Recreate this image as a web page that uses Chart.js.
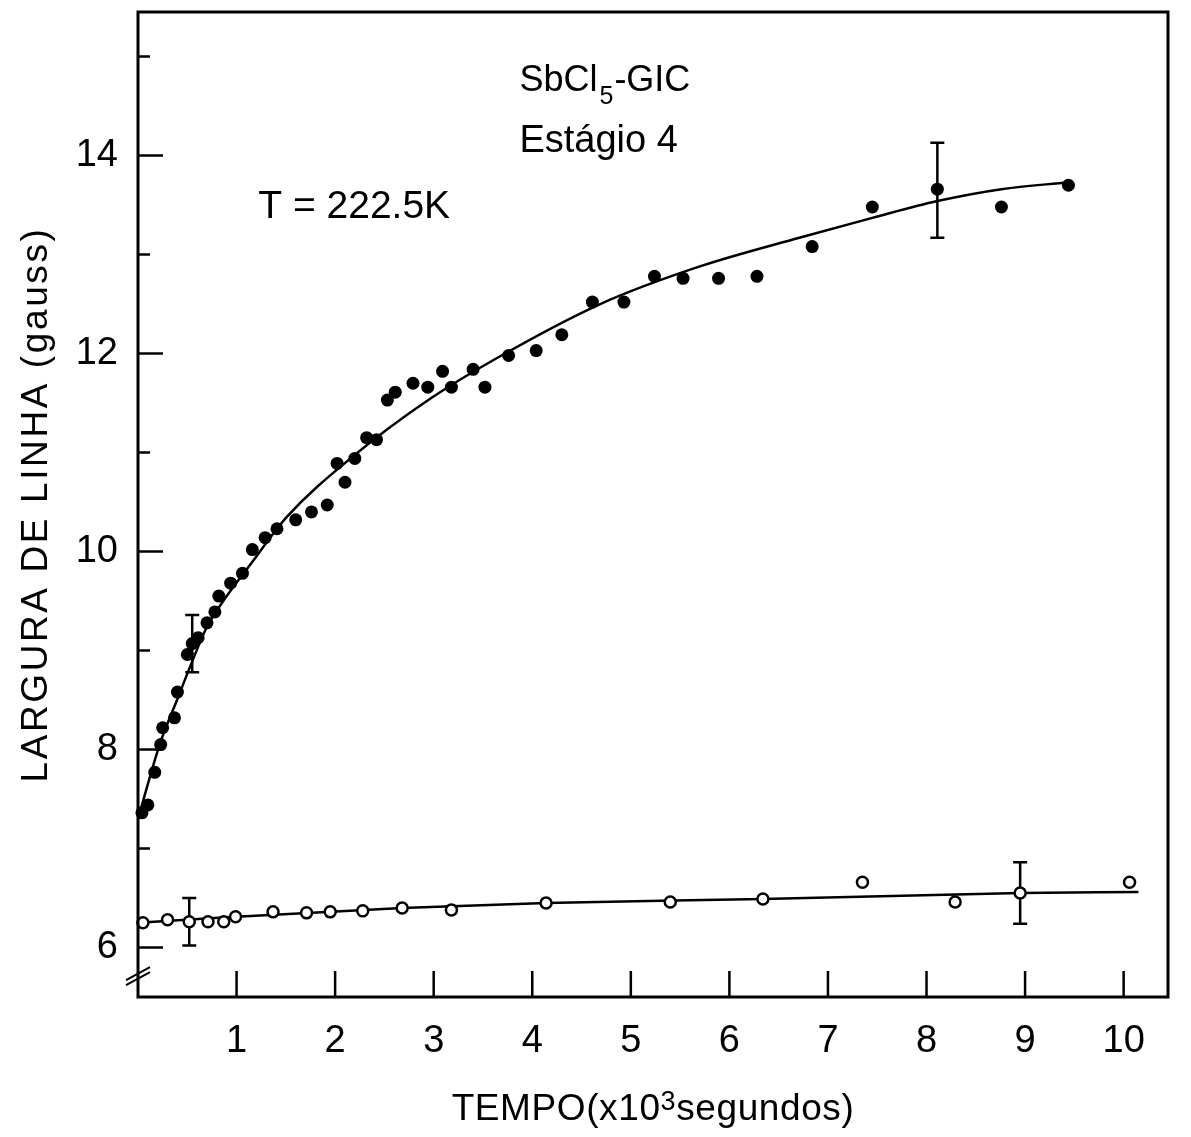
<!DOCTYPE html>
<html>
<head>
<meta charset="utf-8">
<script src="https://cdn.jsdelivr.net/npm/chart.js@4.4.1/dist/chart.umd.min.js"></script>
<style>
  html, body { margin: 0; padding: 0; background: #fff; }
</style>
</head>
<body>
<canvas id="chart" width="1191" height="1137"></canvas>
<script>
// pontos cheios (largura de linha medida)
const filledTime = [0.04, 0.10, 0.17, 0.23, 0.25, 0.37, 0.40, 0.50, 0.55, 0.61, 0.70, 0.78, 0.82, 0.94,
  1.06, 1.16, 1.29, 1.41, 1.60, 1.76, 1.92, 2.10, 2.02, 2.20, 2.32, 2.42, 2.53, 2.61, 2.79, 2.94,
  3.09, 3.18, 3.40, 3.52, 3.76, 4.04, 4.30, 4.61, 4.93, 5.24, 5.53, 5.89, 6.28, 6.84, 7.45, 8.11,
  8.76, 9.44];
const filledWidth = [7.36, 7.44, 7.77, 8.05, 8.22, 8.32, 8.58, 8.96, 9.07, 9.13, 9.28, 9.39, 9.55, 9.68,
  9.78, 10.02, 10.14, 10.23, 10.32, 10.40, 10.47, 10.70, 10.89, 10.94, 11.15, 11.13, 11.53, 11.61, 11.70, 11.66,
  11.82, 11.66, 11.84, 11.66, 11.98, 12.03, 12.19, 12.52, 12.52, 12.78, 12.76, 12.76, 12.78, 13.08, 13.48, 13.66,
  13.48, 13.70];

// pontos abertos
const openTime = [0.05, 0.30, 0.52, 0.71, 0.87, 0.99, 1.37, 1.71, 1.95, 2.28, 2.68, 3.18, 4.14, 5.40,
  6.34, 7.35, 8.29, 8.95, 10.06];
const openWidth = [6.25, 6.28, 6.26, 6.26, 6.26, 6.31, 6.36, 6.35, 6.36, 6.37, 6.40, 6.38, 6.45, 6.46,
  6.49, 6.66, 6.46, 6.55, 6.66];

// curvas ajustadas
const fitUpperTime = [0, 0.22, 0.40, 0.53, 0.70, 0.90, 1.14, 1.51, 2.18, 2.96, 3.67, 4.69, 5.70, 6.71,
  7.45, 8.11, 8.76, 9.44];
const fitUpperWidth = [7.30, 8.05, 8.51, 8.84, 9.24, 9.55, 9.87, 10.35, 10.96, 11.54, 11.97, 12.50, 12.88, 13.17,
  13.37, 13.54, 13.66, 13.73];
const fitLowerTime = [0, 0.98, 2.68, 4.14, 6.34, 8.95, 10.15];
const fitLowerWidth = [6.25, 6.31, 6.40, 6.45, 6.49, 6.55, 6.56];

// barras de erro
const errFilledTime = [0.55, 8.11];
const errFilledCenter = [9.07, 13.65];
const errFilledHalf = [0.29, 0.48];
const errOpenTime = [0.52, 8.95];
const errOpenCenter = [6.26, 6.55];
const errOpenHalf = [0.24, 0.31];

// eixos
const xTickValues = [1, 2, 3, 4, 5, 6, 7, 8, 9, 10];
const yMajorTicks = [6, 8, 10, 12, 14];
const yMinorTicks = [7, 9, 11, 13, 15];

const FONT = '"Liberation Sans", Arial, sans-serif';
const toXY = (xs, ys) => xs.map((x, i) => ({ x: x, y: ys[i] }));

// moldura, marcas internas, quebra do eixo, barras de erro e textos
const decorPlugin = {
  id: 'decor',
  beforeDatasetsDraw(chart) {
    const { ctx, scales: { x, y } } = chart;
    ctx.save();
    ctx.strokeStyle = '#000';
    ctx.lineWidth = 2.5;
    const bars = (ts, cs, hs) => {
      ts.forEach((t, i) => {
        const px = x.getPixelForValue(t);
        const top = y.getPixelForValue(cs[i] + hs[i]);
        const bot = y.getPixelForValue(cs[i] - hs[i]);
        ctx.beginPath();
        ctx.moveTo(px, top); ctx.lineTo(px, bot);
        ctx.moveTo(px - 7, top); ctx.lineTo(px + 7, top);
        ctx.moveTo(px - 7, bot); ctx.lineTo(px + 7, bot);
        ctx.stroke();
      });
    };
    bars(errFilledTime, errFilledCenter, errFilledHalf);
    bars(errOpenTime, errOpenCenter, errOpenHalf);
    ctx.restore();
  },
  afterDraw(chart) {
    const { ctx, chartArea: a, scales: { x, y } } = chart;
    ctx.save();
    ctx.strokeStyle = '#000';
    ctx.lineWidth = 3;
    ctx.strokeRect(a.left, a.top, a.right - a.left, a.bottom - a.top);

    ctx.lineWidth = 2.5;
    ctx.beginPath();
    yMajorTicks.forEach(v => {
      const py = y.getPixelForValue(v);
      ctx.moveTo(a.left, py); ctx.lineTo(a.left + 25, py);
    });
    yMinorTicks.forEach(v => {
      const py = y.getPixelForValue(v);
      ctx.moveTo(a.left, py); ctx.lineTo(a.left + 12, py);
    });
    xTickValues.forEach(v => {
      const px = x.getPixelForValue(v);
      ctx.moveTo(px, a.bottom); ctx.lineTo(px, a.bottom - 26);
    });
    ctx.stroke();

    // quebra do eixo (//)
    const by = y.getPixelForValue(5.72);
    ctx.lineWidth = 2;
    ctx.beginPath();
    ctx.moveTo(a.left - 12, by + 10); ctx.lineTo(a.left + 12, by - 3);
    ctx.moveTo(a.left - 12, by + 5); ctx.lineTo(a.left + 12, by - 8);
    ctx.stroke();

    // textos dentro do gráfico
    ctx.fillStyle = '#000';
    ctx.textBaseline = 'alphabetic';
    ctx.textAlign = 'left';
    let tx = x.getPixelForValue(3.87);
    let ty = y.getPixelForValue(14.65);
    ctx.font = '36px ' + FONT;
    ctx.fillText('SbCl', tx, ty);
    tx += ctx.measureText('SbCl').width + 2;
    ctx.font = '25px ' + FONT;
    ctx.fillText('5', tx, ty + 13);
    tx += ctx.measureText('5').width + 1;
    ctx.font = '36px ' + FONT;
    ctx.fillText('-GIC', tx, ty);

    ctx.font = '38px ' + FONT;
    ctx.fillText('Estágio 4', x.getPixelForValue(3.87), y.getPixelForValue(14.04));
    ctx.font = '39px ' + FONT;
    ctx.fillText('T = 222.5K', x.getPixelForValue(1.22), y.getPixelForValue(13.37));

    // título do eixo x, com expoente
    const partA = 'TEMPO(x10', sup = '3', partB = 'segundos)';
    ctx.letterSpacing = '0.6px';
    ctx.font = '37px ' + FONT;
    const wA = ctx.measureText(partA).width;
    const wB = ctx.measureText(partB).width;
    ctx.font = '27px ' + FONT;
    const wS = ctx.measureText(sup).width;
    let sx = (a.left + a.right) / 2 - (wA + wS + wB) / 2;
    const sy = 1120;
    ctx.font = '37px ' + FONT;
    ctx.fillText(partA, sx, sy);
    sx += wA;
    ctx.font = '27px ' + FONT;
    ctx.fillText(sup, sx, sy - 10);
    sx += wS;
    ctx.font = '37px ' + FONT;
    ctx.fillText(partB, sx, sy);

    // título do eixo y
    ctx.letterSpacing = '2.6px';
    ctx.translate(47, (a.top + a.bottom) / 2);
    ctx.rotate(-Math.PI / 2);
    ctx.textAlign = 'center';
    ctx.fillText('LARGURA DE LINHA (gauss)', 0, 0);
    ctx.restore();
  }
};

new Chart(document.getElementById('chart'), {
  type: 'scatter',
  data: {
    datasets: [
      {
        label: 'cheios',
        data: toXY(filledTime, filledWidth),
        pointRadius: 6.5,
        pointBackgroundColor: '#000',
        pointBorderColor: '#000',
        pointBorderWidth: 0,
        showLine: false,
        clip: false,
        order: 1
      },
      {
        label: 'abertos',
        data: toXY(openTime, openWidth),
        pointRadius: 5.5,
        pointBackgroundColor: '#fff',
        pointBorderColor: '#000',
        pointBorderWidth: 2.5,
        showLine: false,
        clip: false,
        order: 1
      },
      {
        label: 'ajuste superior',
        data: toXY(fitUpperTime, fitUpperWidth),
        showLine: true,
        pointRadius: 0,
        borderColor: '#000',
        borderWidth: 2.5,
        cubicInterpolationMode: 'monotone',
        order: 2
      },
      {
        label: 'ajuste inferior',
        data: toXY(fitLowerTime, fitLowerWidth),
        showLine: true,
        pointRadius: 0,
        borderColor: '#000',
        borderWidth: 2.5,
        cubicInterpolationMode: 'monotone',
        order: 2
      }
    ]
  },
  options: {
    responsive: false,
    devicePixelRatio: 1,
    animation: false,
    layout: { padding: { top: 12, right: 23, left: 0, bottom: 0 } },
    plugins: {
      legend: { display: false },
      tooltip: { enabled: false }
    },
    scales: {
      x: {
        type: 'linear',
        min: 0,
        max: 10.45,
        grid: { display: false, drawTicks: false },
        border: { display: false },
        afterBuildTicks: (s) => { s.ticks = xTickValues.map(v => ({ value: v })); },
        afterFit: (s) => { s.height = 140; s.paddingLeft = 0; s.paddingRight = 0; },
        ticks: {
          autoSkip: false,
          maxRotation: 0,
          padding: 22,
          color: '#000',
          font: { family: FONT, size: 38 }
        },
        title: { display: false }
      },
      y: {
        type: 'linear',
        min: 5.5,
        max: 15.45,
        grid: { display: false, drawTicks: false },
        border: { display: false },
        afterBuildTicks: (s) => { s.ticks = yMajorTicks.map(v => ({ value: v })); },
        afterFit: (s) => { s.width = 138; s.paddingTop = 0; s.paddingBottom = 0; },
        ticks: {
          autoSkip: false,
          padding: 20,
          color: '#000',
          font: { family: FONT, size: 38 }
        },
        title: { display: false }
      }
    }
  },
  plugins: [decorPlugin]
});
</script>
</body>
</html>
